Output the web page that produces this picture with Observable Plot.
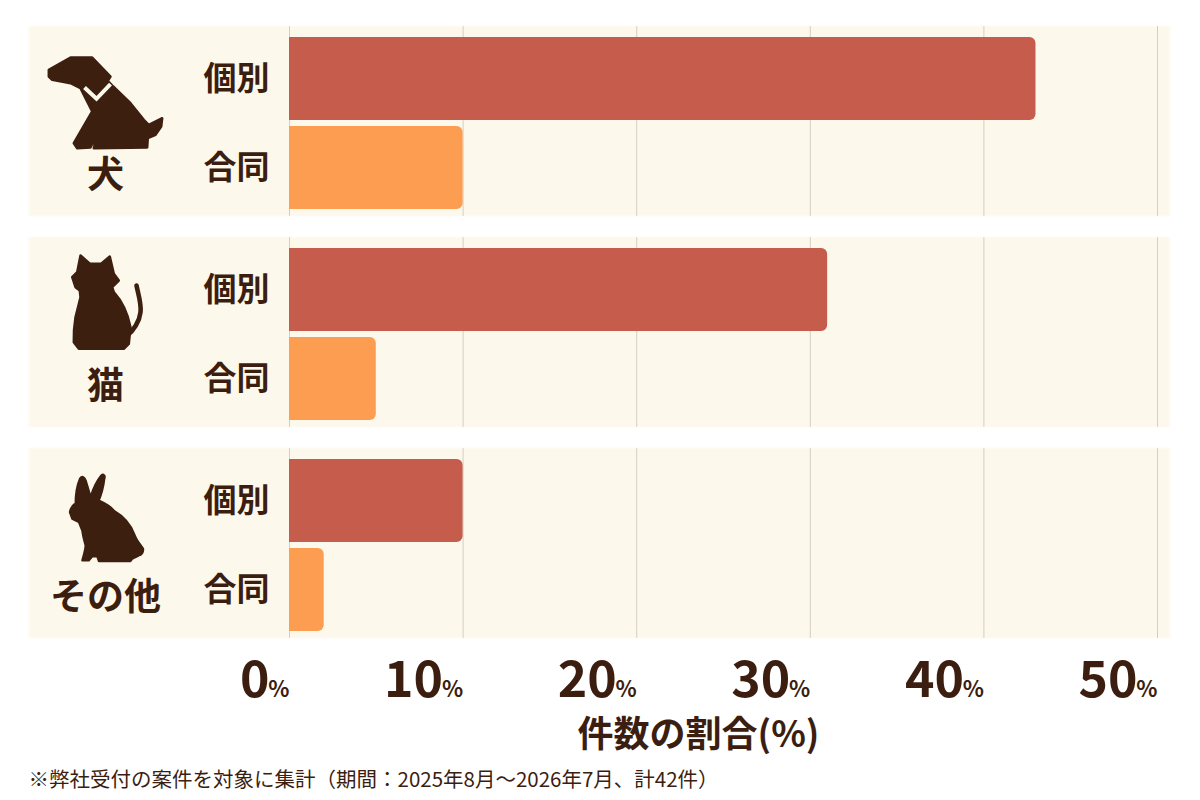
<!DOCTYPE html>
<html>
<head>
<meta charset="utf-8">
<script src="https://cdn.jsdelivr.net/npm/d3@7"></script>
<script src="https://cdn.jsdelivr.net/npm/@observablehq/plot@0.6"></script>
<style>
  body { margin: 0; background: #ffffff; font-family: "Noto Sans CJK JP", sans-serif; }
</style>
</head>
<body>
<div id="chart"></div>
<script>
// ---- data ----
const categories = ["犬", "猫", "その他"];
const types = ["個別", "合同"];
const individualShare = [43, 31, 10];   // 個別 (%)
const jointShare = [10, 5, 2];          // 合同 (%)
const xTicks = [0, 10, 20, 30, 40, 50];
const axisTitle = "件数の割合(%)";
const footnote = "※弊社受付の案件を対象に集計（期間：2025年8月〜2026年7月、計42件）";

// ---- style ----
const typeColors = ["#c55c4c", "#fd9d51"];
const ink = "#3b1e0f";
const panelFill = "#fdf8ec";
const gridColor = "#d6cec3";

const rows = categories.flatMap((c, i) => [
  {cat: c, type: types[0], value: individualShare[i]},
  {cat: c, type: types[1], value: jointShare[i]}
]);

// icon silhouettes (decorative)
const iconColor = "#3d1f10";
const iconShapes = {
  "犬": `<path d="M18.3,43.3 L40,31 L61.7,31 L80,50 L77.3,54.3 L82.7,60 L100,76.7 L113.3,93.3 L118.3,98.3 L131.7,91.7 L130.7,100 L125,108.3 L117.3,111.7 L116.7,121 L63.3,121.7 L66.7,106.7 L60,121 L46.7,121.7 L43.3,116.7 L61.7,85 L55,71.7 L50,61.7 L40,56.7 L21.7,53.3 L18.3,50 Z" fill="${iconColor}" stroke="${iconColor}" stroke-width="2.5" stroke-linejoin="round"/>
         <path d="M54,61 L66,72.3 L80,57.7" fill="none" stroke="${panelFill}" stroke-width="4"/>`,
  "猫": `<path d="M50,18 L59.3,26.3 L70.7,26.3 L79.3,19 L83.3,36.3 L88.3,43 L81.7,49.7 L83.3,54.7 C90,62 97,75 100,89.7 L98.3,106.3 L93.3,111.3 L48.3,111.3 L43.3,104.7 C43,95 44,86 45,79.7 L50,59.7 L49.3,53 L45,49.7 L41.7,39.7 L46.7,34.7 Z" fill="${iconColor}" stroke="${iconColor}" stroke-width="2.5" stroke-linejoin="round"/>
         <path d="M96.7,98 C103,93 109,84 110,74.7 C111,66 108,58 106,48" fill="none" stroke="${iconColor}" stroke-width="4.6" stroke-linecap="round"/>`,
  "その他": `<path d="M39.3,63.7 C40,59 43,56 45,55.3 C45,48 46,38 49.3,30.3 C51,27 54,28 55.3,32 C57,38 59,44 60,48.7 C62,42 65,34 70.7,27 C73,25 75,27 74,30 C73,38 71,46 68.3,52 C75,55 80,58 83.3,62 C92,67 100,75 104,86 C106,92 110,96 112.7,100.3 C113,104 111,107 108.3,107 L101.7,110.3 L100,112.7 L68.3,112.7 L66.7,108 L61.7,108 L58.3,112 L51.7,112 C53,106 55,102 55,97 C53,90 52,85 51.7,82 L48.3,73.7 L41.7,70.3 Z" fill="${iconColor}" stroke="${iconColor}" stroke-width="2" stroke-linejoin="round"/>`
};
const icons = categories.map(c => ({
  cat: c,
  src: "data:image/svg+xml," + encodeURIComponent(
    `<svg xmlns="http://www.w3.org/2000/svg" viewBox="0 0 150 150" width="150" height="150">${iconShapes[c]}</svg>`)
}));

const chart = Plot.plot({
  width: 1200,
  height: 800,
  marginLeft: 289,
  marginRight: 43,
  marginTop: 25,
  marginBottom: 162,
  style: {fontFamily: "'Noto Sans CJK JP', sans-serif", background: "transparent", color: ink},
  x: {domain: [0, 50], label: null},
  y: {domain: types, paddingInner: 0.07, paddingOuter: 0.1, align: 0.62, label: null},
  fy: {domain: categories, padding: 0.1, axis: null, label: null},
  color: {domain: types, range: typeColors},
  marks: [
    Plot.rect(categories, {fy: d => d, x1: -15, x2: 50.75, fill: panelFill}),
    Plot.ruleX(xTicks, {stroke: gridColor, strokeWidth: 1}),
    Plot.barX(rows, {x: "value", y: "type", fy: "cat", fill: "type", rx2: 6}),
    Plot.axisY({tickSize: 0, tickPadding: 20, fontSize: 33, fontWeight: "bold", color: ink, label: null}),
    Plot.axisX({ticks: xTicks, tickFormat: d => String(d), tickSize: 0, fontSize: 50, fontWeight: "bold",
                textAnchor: "end", dx: -20, dy: 14, color: ink, label: null}),
    Plot.axisX({ticks: xTicks, tickFormat: () => "%", tickSize: 0, fontSize: 22, fontWeight: "bold",
                textAnchor: "end", dx: 0, dy: 34, color: ink, label: null}),
    Plot.image(icons, {fy: "cat", src: "src", width: 150, height: 150, frameAnchor: "top-left", dx: -184, dy: 75}),
    Plot.text(categories, {fy: d => d, text: d => d, frameAnchor: "top-left", dx: -184, dy: 150,
                           textAnchor: "middle", lineAnchor: "middle", fontSize: 37, fontWeight: "bold", fill: ink}),
    Plot.text([axisTitle], {text: d => d, facet: "super", frameAnchor: "bottom", dx: -25, dy: 97,
                            textAnchor: "middle", lineAnchor: "middle", fontSize: 36, fontWeight: "bold", fill: ink}),
    Plot.text([footnote], {text: d => d, facet: "super", frameAnchor: "bottom-left", dx: -261, dy: 142,
                           textAnchor: "start", lineAnchor: "middle", fontSize: 20.5, fill: ink})
  ]
});
d3.select(chart).selectAll('g[aria-label="rect"] rect').style("filter", "blur(1.2px)");
document.getElementById("chart").appendChild(chart);
</script>
</body>
</html>
